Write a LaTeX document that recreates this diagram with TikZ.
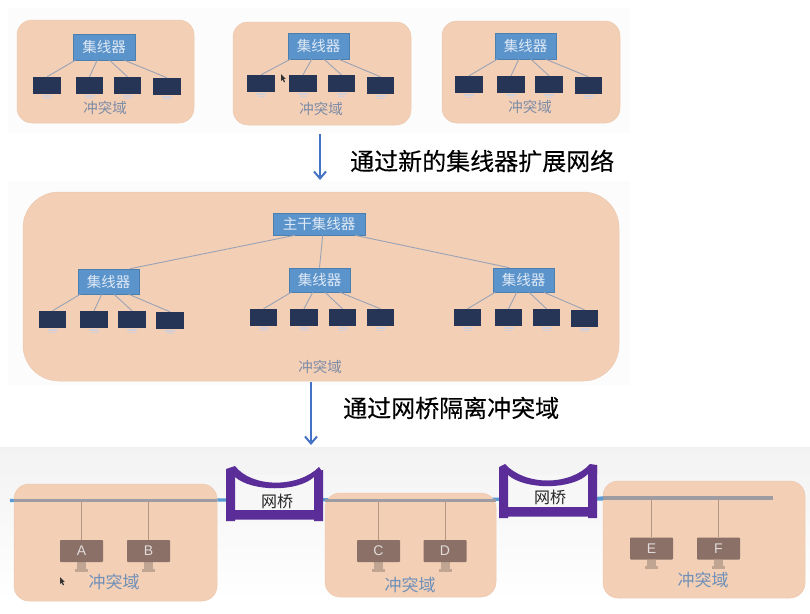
\documentclass[tikz,border=0pt]{standalone}
\usepackage{fontspec}
\setmainfont{Liberation Sans}
\newfontfamily\cjk{Noto Sans CJK SC}
\newfontfamily\cjkheavy[FakeBold=0.25]{Noto Sans CJK SC}
\usetikzlibrary{calc,arrows.meta}
\definecolor{panelc}{HTML}{F3CFB6}
\definecolor{panelb}{HTML}{D9B79F}
\definecolor{hubc}{HTML}{5B93CB}
\definecolor{hubb}{HTML}{4A7FAF}
\definecolor{screenc}{HTML}{263555}
\definecolor{standc}{HTML}{D3CFD8}
\definecolor{wire}{HTML}{9AA3B5}
\definecolor{domtxt}{HTML}{7D8CA6}
\definecolor{domtxtb}{HTML}{6F90B8}
\definecolor{arrowc}{HTML}{4472C4}
\definecolor{bridgec}{HTML}{5B2D98}
\definecolor{busblue}{HTML}{5B9BD5}
\definecolor{busgrey}{HTML}{9C9CA2}
\definecolor{pcc}{HTML}{8A7067}
\definecolor{pcstand}{HTML}{BFA592}
\tikzset{
  panel/.style={fill=panelc,draw=panelb!25!panelc,line width=.5pt,rounded corners=#1},
  hubbox/.style={fill=hubc,draw=hubb,line width=.6pt,text=white!80!hubc,inner sep=0pt,font=\cjk\fontsize{14.5}{16}\selectfont},
  scr/.style={fill=screenc,inner sep=0pt,minimum width=27.5pt,minimum height=17pt},
  dom/.style={text=domtxt,inner sep=0pt,font=\cjk\fontsize{14.5}{16}\selectfont},
  domb/.style={text=domtxtb,inner sep=0pt,font=\cjk\fontsize{17}{19}\selectfont},
  wirel/.style={draw=wire,line width=.9pt},
  flow/.style={draw=arrowc,line width=2.2pt,-{Straight Barb[length=7pt,width=12pt,line width=2pt]}},
  captxt/.style={text=black,inner sep=0pt,font=\cjkheavy\fontsize{24}{26}\selectfont},
  pc/.style={fill=pcc,inner sep=0pt,minimum width=43pt,minimum height=22pt,rounded corners=.8pt,text=white!75!pcc,font=\fontsize{14}{16}\selectfont},
  drop/.style={draw=pcc!60!panelc,line width=.6pt},
  bridgetxt/.style={text=black!85,inner sep=0pt,font=\cjk\fontsize{16}{18}\selectfont},
  bus/.style={line width=3.4pt}
}
% small monitor: name, centre x, top y
\newcommand{\smallpc}[3]{%
  \fill[standc] (#2-5,#3+17.5) rectangle (#2+5,#3+19.5);
  \fill[standc] (#2-3.5,#3+21) rectangle (#2+3.5,#3+22);
  \node[scr] (#1) at (#2,#3+8.5) {};}
% large monitor: name, centre x, top y, letter
\newcommand{\bigpc}[4]{%
  \fill[pcstand] (#2-4.5,#3+22) rectangle (#2+4.5,#3+28.5);
  \fill[pcstand] (#2-6.5,#3+28.5) rectangle (#2+6.5,#3+31.5);
  \node[pc] (#1) at (#2,#3+11) {#4};}
% four hub connectors: hub, four monitors
\newcommand{\hublinks}[5]{%
  \draw[wirel] ($(#1.south west)!.04!(#1.south east)$) -- (#2.north);
  \draw[wirel] ($(#1.south west)!.39!(#1.south east)$) -- (#3.north);
  \draw[wirel] ($(#1.south west)!.59!(#1.south east)$) -- (#4.north);
  \draw[wirel] ($(#1.south west)!.83!(#1.south east)$) -- (#5.north);}
\newcommand{\hubnode}[6]{%
  \node[hubbox,minimum width=#4pt,minimum height=#5pt] (#1) at (#2,#3) {#6};}
\begin{document}
\begin{tikzpicture}[x=1pt,y=-1pt]
\useasboundingbox (0,0) rectangle (810,613);
\fill[white] (0,0) rectangle (810,613);
% backdrops
\fill[black!1.2] (8,8) rectangle (630,133);
\fill[black!1] (8,181) rectangle (630,385);
\shade[top color=black!5,bottom color=white] (0,447) rectangle (810,600);

% top row
\draw[panel=15pt] (17,20) rectangle (194,123);
\draw[panel=15pt] (233,22) rectangle (411,125);
\draw[panel=15pt] (442,21) rectangle (620,123);

\hubnode{ha}{104}{47}{62}{26}{集线器}
\smallpc{a1}{47}{77}\smallpc{a2}{89.5}{77}\smallpc{a3}{127.5}{77}\smallpc{a4}{167}{78}
\hublinks{ha}{a1}{a2}{a3}{a4}
\node[dom] (da) at (105,108) {冲突域};

\hubnode{hb}{318.5}{46}{61}{26}{集线器}
\smallpc{b1}{261}{75}\smallpc{b2}{303}{75}\smallpc{b3}{341.5}{75}\smallpc{b4}{380.5}{77}
\hublinks{hb}{b1}{b2}{b3}{b4}
\node[dom] (db) at (321,109) {冲突域};

\hubnode{hc}{525.5}{46}{61}{26}{集线器}
\smallpc{c1}{469}{76}\smallpc{c2}{511}{76}\smallpc{c3}{549}{76}\smallpc{c4}{588.5}{77}
\hublinks{hc}{c1}{c2}{c3}{c4}
\node[dom] (dc) at (530,107) {冲突域};

% cursor 1
\fill[black!80] (281,74) -- (281,81) -- (282.6,79.6) -- (284,82.4) -- (285,81.8) -- (283.8,79) -- (285.6,78.8) -- cycle;

% first transition
\coordinate (f1s) at (320,134);
\coordinate (f1e) at (320,180);
\draw[flow] (f1s) -- (f1e);
\node[captxt,anchor=west] (t1) at (350,161) {通过新的集线器扩展网络};

% middle panel
\draw[panel=36pt] (23,192) rectangle (619,381);
\hubnode{main}{319}{224}{92}{22}{主干集线器}
\hubnode{hd}{108.5}{281.5}{61}{25}{集线器}
\hubnode{he}{319.5}{280}{61}{24}{集线器}
\hubnode{hf}{523.5}{280}{61}{24}{集线器}
\draw[wirel] ($(main.south west)!.24!(main.south east)$) -- ($(hd.north west)!.85!(hd.north east)$);
\draw[wirel] ($(main.south west)!.54!(main.south east)$) -- (he.north);
\draw[wirel] ($(main.south west)!.89!(main.south east)$) -- ($(hf.north west)!.27!(hf.north east)$);
\smallpc{d1}{52.5}{311}\smallpc{d2}{94}{311}\smallpc{d3}{132}{311}\smallpc{d4}{170}{312}
\hublinks{hd}{d1}{d2}{d3}{d4}
\smallpc{e1}{263.5}{309}\smallpc{e2}{304}{309}\smallpc{e3}{342.5}{309}\smallpc{e4}{380.5}{309}
\hublinks{he}{e1}{e2}{e3}{e4}
\smallpc{f1}{467.5}{309}\smallpc{f2}{508.5}{309}\smallpc{f3}{546.5}{309}\smallpc{f4}{584.5}{310}
\hublinks{hf}{f1}{f2}{f3}{f4}
\node[dom] (dd) at (320,367) {冲突域};

% second transition
\coordinate (f2s) at (311,382);
\coordinate (f2e) at (311,445);
\draw[flow] (f2s) -- (f2e);
\node[captxt,anchor=west] (t2) at (343,408) {通过网桥隔离冲突域};

% bottom: bus coloured part
\coordinate (busl) at (10,500.5);
\coordinate (busr) at (603,499);
\draw[bus,draw=busblue] (busl) -- (busr);

\draw[panel=15pt] (14,484) rectangle (217,601);
\draw[panel=15pt] (325,493) rectangle (496,597);
\draw[panel=15pt] (603,481) rectangle (805,598);

% bus grey parts over the panels
\coordinate (g1a) at (14,500.5);\coordinate (g1b) at (217,500.5);
\coordinate (g2a) at (325,500.5);\coordinate (g2b) at (496,500.5);
\coordinate (g3a) at (603,498);\coordinate (g3b) at (773,498);
\draw[bus,draw=busgrey] (g1a) -- (g1b);
\draw[bus,draw=busgrey] (g2a) -- (g2b);
\draw[bus,draw=busgrey] (g3a) -- (g3b);
\draw[bus,draw=busblue] (597,498.5) -- (g3a);

% computers
\bigpc{A}{81.5}{540}{A}
\bigpc{B}{148.5}{540}{B}
\bigpc{C}{378.5}{540}{C}
\bigpc{D}{445}{540}{D}
\bigpc{E}{651.5}{537.5}{E}
\bigpc{F}{718.5}{537.5}{F}
\draw[drop] (A.north) -- (A.north |- g1a);
\draw[drop] (B.north) -- (B.north |- g1a);
\draw[drop] (C.north) -- (C.north |- g2a);
\draw[drop] (D.north) -- (D.north |- g2a);
\draw[drop] (E.north) -- (E.north |- g3a);
\draw[drop] (F.north) -- (F.north |- g3a);
\node[domb] (de) at (114,582) {冲突域};
\node[domb] (df) at (410,585) {冲突域};
\node[domb] (dg) at (703,580) {冲突域};

% bridge 1
\fill[white!97!black] (235,475) -- (314,475) -- (314,510) -- (235,510) -- cycle;
\fill[bridgec] (226,469) -- (235,466) .. controls (252,488) and (298,488) .. (319,467) -- (323,473) -- (314,477)
  .. controls (298,492) and (252,492) .. (235,477) -- (226,471) -- cycle;
\fill[bridgec] (226,469) -- (235,472) -- (235,510) -- (314,510) -- (314,472) -- (323,470) -- (323,521) -- (314,521) -- (314,519.5) -- (235,519.5) -- (235,521) -- (226,521) -- cycle;
\node[bridgetxt] (n1) at (277,501) {网桥};

% bridge 2
\fill[white!97!black] (508,475) -- (588,475) -- (588,507) -- (508,507) -- cycle;
\fill[bridgec] (499,467) -- (505,464) .. controls (525,486) and (570,486) .. (590,464) -- (597,465) -- (597,474) -- (588,474)
  .. controls (572,490) and (525,490) .. (508,475) -- cycle;
\fill[bridgec] (499,467) -- (508,470) -- (508,507) -- (588,507) -- (588,470) -- (597,465) -- (597,518) -- (588,518) -- (588,516.5) -- (508,516.5) -- (508,518) -- (499,518) -- cycle;
\node[bridgetxt] (n2) at (550,497) {网桥};

% cursor 2
\fill[black!80] (60,577) -- (60,584) -- (61.6,582.6) -- (63,585.4) -- (64,584.8) -- (62.8,582) -- (64.6,581.8) -- cycle;
\end{tikzpicture}
\end{document}
